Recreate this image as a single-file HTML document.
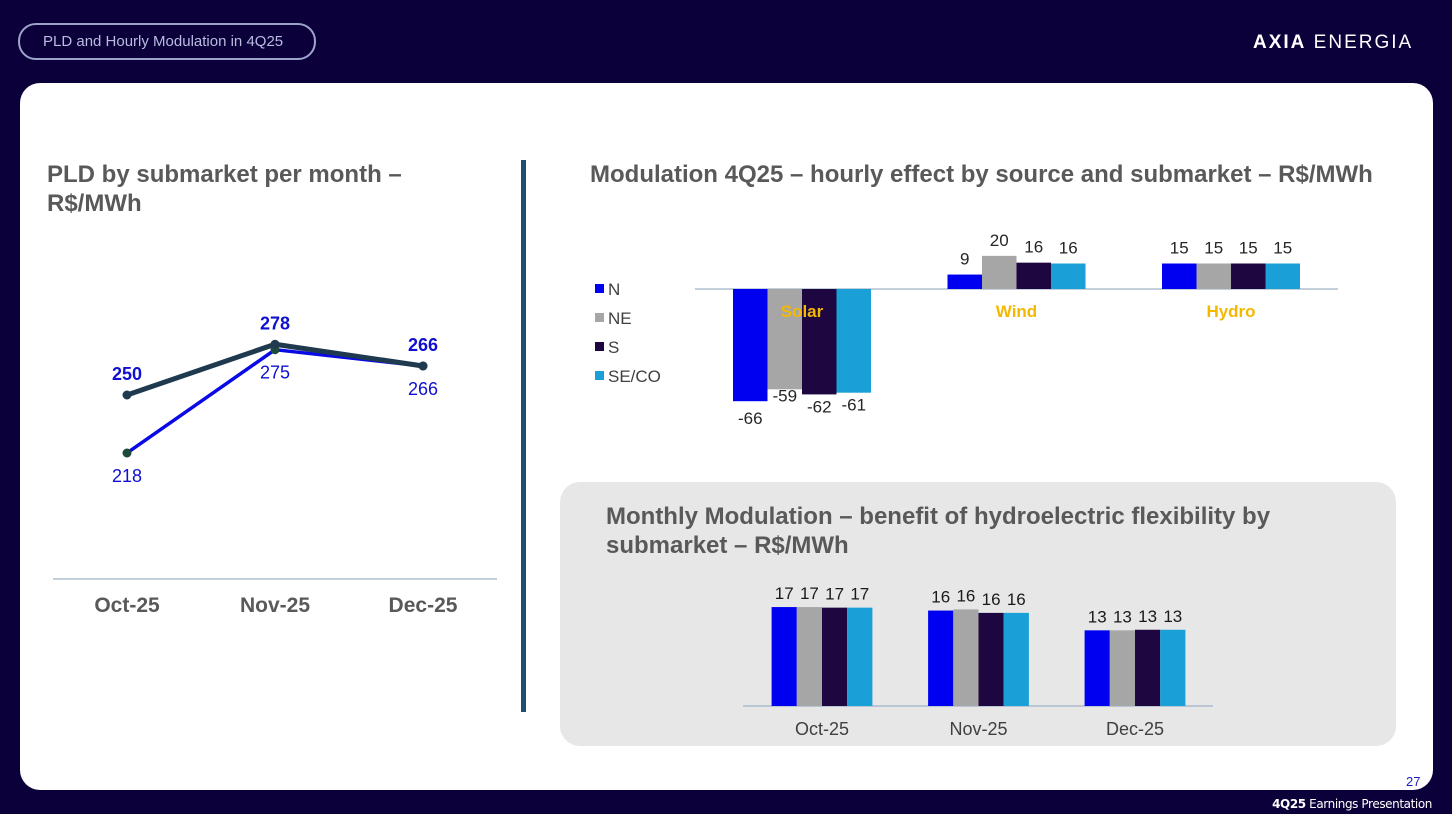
<!DOCTYPE html>
<html><head><meta charset="utf-8">
<style>
body{margin:0;width:1452px;height:814px;background:#0c003b;position:relative;overflow:hidden;font-family:"Liberation Sans",sans-serif}
.pill{position:absolute;left:18px;top:23px;width:294px;height:33px;border:2px solid #9ea3cc;border-radius:18px;color:#b8bce0;font-size:15px;line-height:33px;text-indent:23px}
.logo{position:absolute;left:1253px;top:32px;color:#fff;font-size:19px;letter-spacing:2px}
.card{position:absolute;left:20px;top:83px;width:1413px;height:707px;background:#fff;border-radius:20px}
.foot{position:absolute;right:20px;top:797px;color:#fff;font-size:12px;font-family:"DejaVu Sans",sans-serif;letter-spacing:-0.4px}
svg{position:absolute;left:0;top:0}
</style></head><body>
<div class="pill">PLD and Hourly Modulation in 4Q25</div>
<div class="logo"><b>AXIA</b> ENERGIA</div>
<div class="card"></div>
<div class="foot"><b>4Q25</b> Earnings Presentation</div>
<svg id="s" width="1452" height="814">
<text x="1406" y="786" font-size="13" fill="#2020c0">27</text>
<text x="47" y="182" font-size="24" font-weight="bold" fill="#595959">PLD by submarket per month –</text>
<text x="47" y="211" font-size="24" font-weight="bold" fill="#595959">R$/MWh</text>
<rect x="521" y="160" width="5" height="552" fill="#1f4e6e"/>
<text x="590" y="182" font-size="24" font-weight="bold" fill="#595959">Modulation 4Q25 – hourly effect by source and submarket – R$/MWh</text>
<rect x="560" y="482" width="836" height="264" rx="20" fill="#e7e7e7"/>
<text x="606" y="524" font-size="24" font-weight="bold" fill="#595959">Monthly Modulation – benefit of hydroelectric flexibility by</text>
<text x="606" y="553" font-size="24" font-weight="bold" fill="#595959">submarket – R$/MWh</text>
<line x1="53" y1="579" x2="497" y2="579" stroke="#9fb3c8" stroke-width="1.2"/>
<line x1="695" y1="289" x2="1338" y2="289" stroke="#9fb3c8" stroke-width="1.2"/>
<line x1="743" y1="706" x2="1213" y2="706" stroke="#9fb3c8" stroke-width="1.2"/>
</svg>
<script>
const months=["Oct-25","Nov-25","Dec-25"];
const pldHigh=[250,278,266];
const pldN=[218,275,266];
const submarkets=["N","NE","S","SE/CO"];
const sources=["Solar","Wind","Hydro"];
const modN=[-66,8.5,15];
const modNE=[-59,19.5,15];
const modS=[-62,15.5,15];
const modSE=[-61,15,15];
const modLabels=[[-66,-59,-62,-61],[9,20,16,16],[15,15,15,15]];
const monN=[17.0,16.4,13.0];
const monNE=[17.0,16.6,13.0];
const monS=[16.9,16.0,13.1];
const monSE=[16.9,16.0,13.1];
const monLabels=[[17,17,17,17],[16,16,16,16],[13,13,13,13]];
const colors=["#0000f0","#a6a6a6","#1e0640","#1a9fd6"];
const NS="http://www.w3.org/2000/svg",svg=document.getElementById('s');
function mk(t,a,txt){const e=document.createElementNS(NS,t);for(const k in a)e.setAttribute(k,a[k]);if(txt!==undefined)e.textContent=txt;svg.appendChild(e);return e;}
const px=i=>127+i*148, py=v=>395-(v-250)*1.8125;
months.forEach((m,i)=>{const t=mk('text',{x:px(i),y:612,'font-size':21,'font-weight':'bold',fill:'#595959','text-anchor':'middle'},m);

});
function line(arr,col,w,name){const p=mk('polyline',{points:arr.map((v,i)=>px(i)+','+py(v)).join(' '),fill:'none',stroke:col,'stroke-width':w,'stroke-linejoin':'round'});

}
line(pldN,'#0a0ae6',3.5,'line-n');
line(pldHigh,'#1f3a4f',5,'line-other-submarkets');
[pldN,pldHigh].forEach((arr,s)=>arr.forEach((v,i)=>{const c=mk('circle',{cx:px(i),cy:py(v),r:4.5,fill:s?'#1f3a4f':'#1d4a3a'});

}));
pldHigh.forEach((v,i)=>{const t=mk('text',{x:px(i),y:py(v)-15,'font-size':18,'font-weight':'bold',fill:'#1010d0','text-anchor':'middle'},v);

});
pldN.forEach((v,i)=>{const t=mk('text',{x:px(i),y:py(v)+29,'font-size':18,fill:'#1010d0','text-anchor':'middle'},v);

});
submarkets.forEach((s,i)=>{const r=mk('rect',{x:595,y:284+i*29,width:9,height:9,fill:colors[i]});


const t=mk('text',{x:608,y:295+i*29,'font-size':17,fill:'#404040'},s);

});
const mod=[modN,modNE,modS,modSE];
const mY=v=>289-v*1.7, bw=34.5;
sources.forEach((src,g)=>{const cx=802+g*214.5;
mod.forEach((ser,k)=>{const v=ser[g],x=cx-2*bw+k*bw,y=Math.min(mY(v),289),h=Math.abs(v*1.7);
const r=mk('rect',{x:x,y:y,width:bw,height:h,fill:colors[k]});


const lab=modLabels[g][k];
const ly=v<0?mY(v)+(k==1?12:18)+(k==0?5:0):mY(v)-10;
const t=mk('text',{x:x+bw/2,y:ly,'font-size':17,fill:'#262626','text-anchor':'middle'},lab);

});
const t=mk('text',{x:cx,y:317,'font-size':17,'font-weight':'bold',fill:'#f5b800','text-anchor':'middle'},src);

});
const mon=[monN,monNE,monS,monSE];
const bY=v=>706-v*5.82, bw2=25.2;
months.forEach((m,g)=>{const cx=822+g*156.5;
mon.forEach((ser,k)=>{const v=ser[g],x=cx-2*bw2+k*bw2;
const r=mk('rect',{x:x,y:bY(v),width:bw2,height:v*5.82,fill:colors[k]});


const t=mk('text',{x:x+bw2/2,y:bY(v)-8,'font-size':17,fill:'#1a1a1a','text-anchor':'middle'},monLabels[g][k]);

});
const t=mk('text',{x:cx,y:735,'font-size':18,fill:'#404040','text-anchor':'middle'},m);

});
</script>
</body></html>
